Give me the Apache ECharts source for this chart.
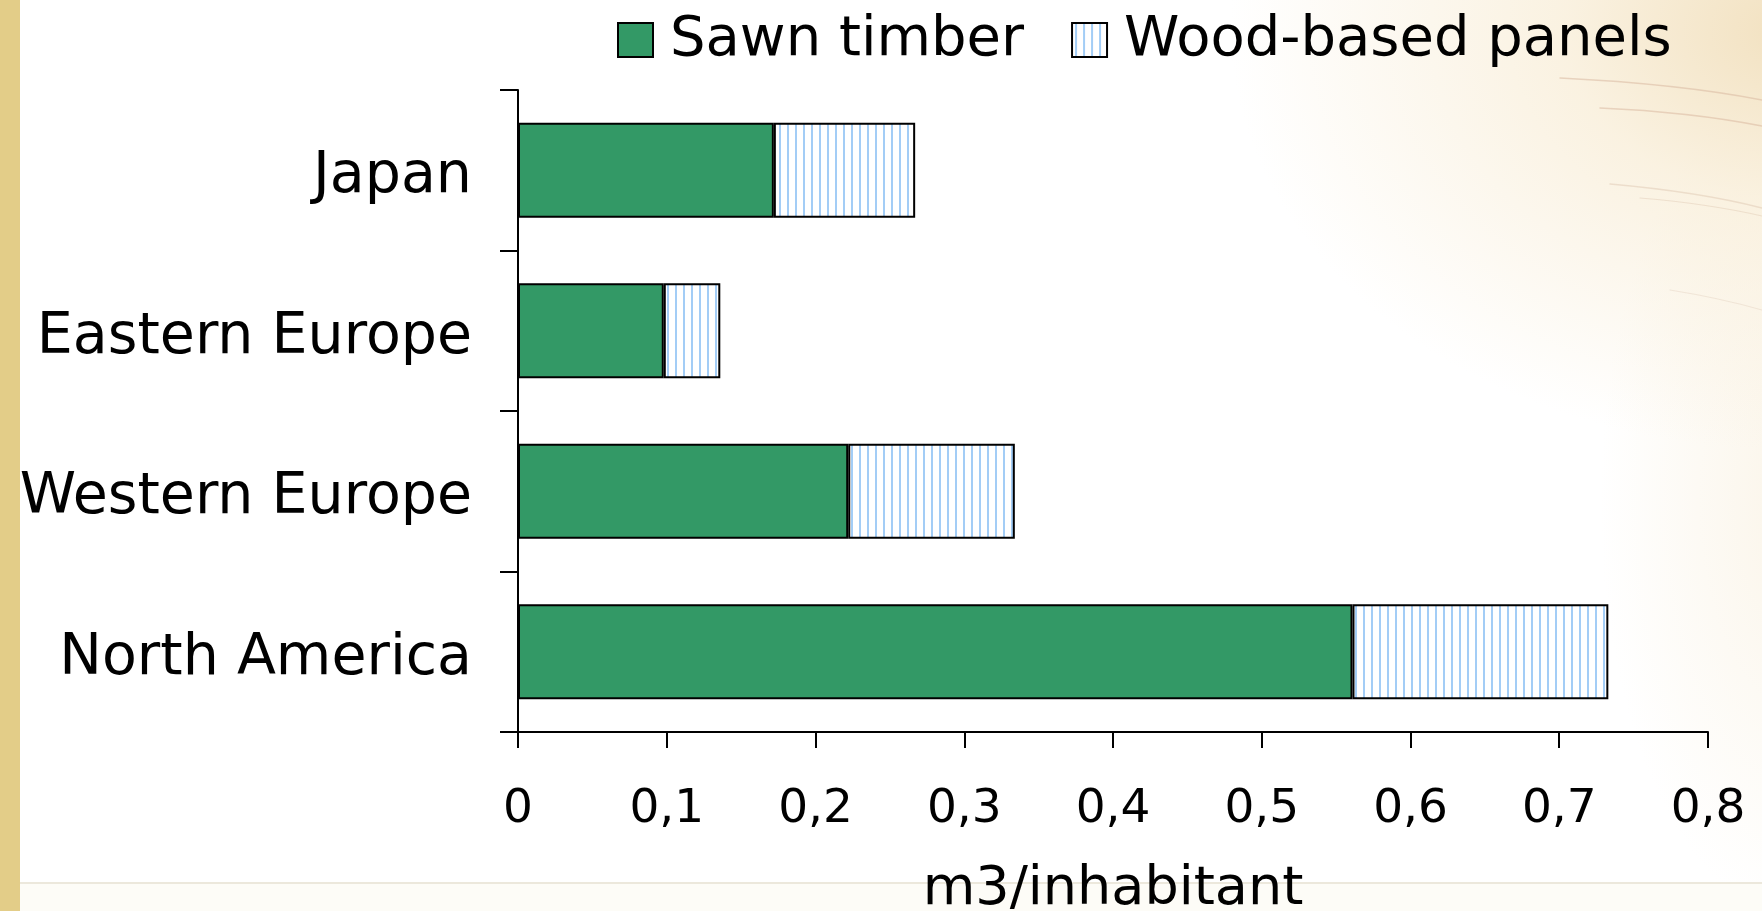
<!DOCTYPE html>
<html lang="en">
<head>
    <meta charset="utf-8">
    <title>Sawn timber and wood-based panels per inhabitant</title>
    <style>
        html, body {margin: 0; padding: 0;}
        body {
            width: 1762px; height: 911px; overflow: hidden;
            background:
                linear-gradient(to right, #e3cd88 0, #e3cd88 20px, transparent 20px),
                linear-gradient(to bottom, transparent 882px, #ece8dc 882px, #ece8dc 884px, #fdfcf7 884px),
                radial-gradient(ellipse 560px 420px at 1790px 30px, #f2e1c0 0%, rgba(248,236,212,0.7) 40%, rgba(255,255,255,0) 100%),
                radial-gradient(ellipse 200px 420px at 1800px 500px, rgba(248,238,218,0.6) 0%, rgba(255,255,255,0) 100%),
                #ffffff;
        }
        #streaks {position: absolute; left: 0; top: 0;}
        #main {position: absolute; left: 0; top: 0; width: 1762px; height: 911px;}
    </style>
</head>
<body>

<svg id="streaks" width="1762" height="911">
    <g fill="none" stroke-linecap="round">
        <path d="M1560 78 Q1680 84 1762 100" stroke="#d9b8a0" stroke-width="1.5" opacity="0.55"/>
        <path d="M1600 108 Q1690 112 1762 126" stroke="#d8b49c" stroke-width="1.5" opacity="0.5"/>
        <path d="M1610 184 Q1700 192 1762 208" stroke="#dcc3ad" stroke-width="1.5" opacity="0.45"/>
        <path d="M1640 198 Q1710 204 1762 216" stroke="#dcc3ad" stroke-width="1.2" opacity="0.4"/>
        <path d="M1670 290 Q1720 298 1762 310" stroke="#e0cdbb" stroke-width="1.2" opacity="0.4"/>
    </g>
</svg>

<div id="main"></div>

<script src="https://cdn.jsdelivr.net/npm/echarts@6/dist/echarts.min.js"></script>
<script>
    // data, bottom to top as drawn
    var regions = ['North America', 'Western Europe', 'Eastern Europe', 'Japan'];
    var sawnTimber = [0.561, 0.222, 0.098, 0.172];
    var woodPanels = [0.172, 0.112, 0.038, 0.095];
    var xTicks = [0, 0.1, 0.2, 0.3, 0.4, 0.5, 0.6, 0.7, 0.8];

    // light blue vertical stripes for the panels
    var stripe = document.createElement('canvas');
    stripe.width = 8;
    stripe.height = 4;
    var ctx = stripe.getContext('2d');
    ctx.fillStyle = '#ffffff';
    ctx.fillRect(0, 0, 8, 4);
    ctx.fillStyle = '#a3cdf6';
    ctx.fillRect(3, 0, 2, 4);

    var font = 'DejaVu Sans';
    var myChart = echarts.init(document.getElementById('main'), null, {renderer: 'canvas'});

    var option = {
        backgroundColor: 'transparent',
        animation: false,
        legend: {
            left: 617,
            top: 12,
            padding: 0,
            itemWidth: 35,
            itemHeight: 34,
            itemGap: 47,
            icon: 'rect',
            textStyle: {fontFamily: font, fontSize: 56, color: '#000', padding: [0, 0, 0, 12]},
            data: ['Sawn timber', 'Wood-based panels']
        },
        grid: {left: 518, right: 54, top: 90, bottom: 179, outerBoundsMode: 'none'},
        xAxis: {
            type: 'value',
            min: 0,
            max: 0.8,
            interval: 0.1,
            name: 'm3/inhabitant',
            nameLocation: 'middle',
            nameGap: 131,
            nameTextStyle: {fontFamily: font, fontSize: 54, color: '#000'},
            axisLine: {show: true, lineStyle: {color: '#000', width: 2}},
            axisTick: {show: true, length: 16, lineStyle: {color: '#000', width: 2}},
            axisLabel: {
                fontFamily: font, fontSize: 47, color: '#000', margin: 54,
                formatter: function (v) {
                    var t = xTicks.filter(function (x) { return Math.abs(x - v) < 1e-9; });
                    return t.length ? String(t[0]).replace('.', ',') : '';
                }
            },
            splitLine: {show: false}
        },
        yAxis: {
            type: 'category',
            data: regions,
            axisLine: {show: true, lineStyle: {color: '#000', width: 2}},
            axisTick: {show: true, length: 18, lineStyle: {color: '#000', width: 2}},
            axisLabel: {
                margin: 46,
                formatter: function (v) { return '{l|' + v + '}'; },
                rich: {
                    l: {fontFamily: font, fontSize: 57, color: '#000', padding: [14, 0, 0, 0]}
                }
            }
        },
        series: [
            {
                name: 'Sawn timber',
                type: 'bar',
                stack: 'total',
                barWidth: 95,
                itemStyle: {color: '#339966', borderColor: '#000', borderWidth: 2},
                data: sawnTimber
            },
            {
                name: 'Wood-based panels',
                type: 'bar',
                stack: 'total',
                barWidth: 95,
                itemStyle: {color: {image: stripe, repeat: 'repeat'}, borderColor: '#000', borderWidth: 2},
                data: woodPanels
            }
        ]
    };

    myChart.setOption(option);
</script>
</body>
</html>
